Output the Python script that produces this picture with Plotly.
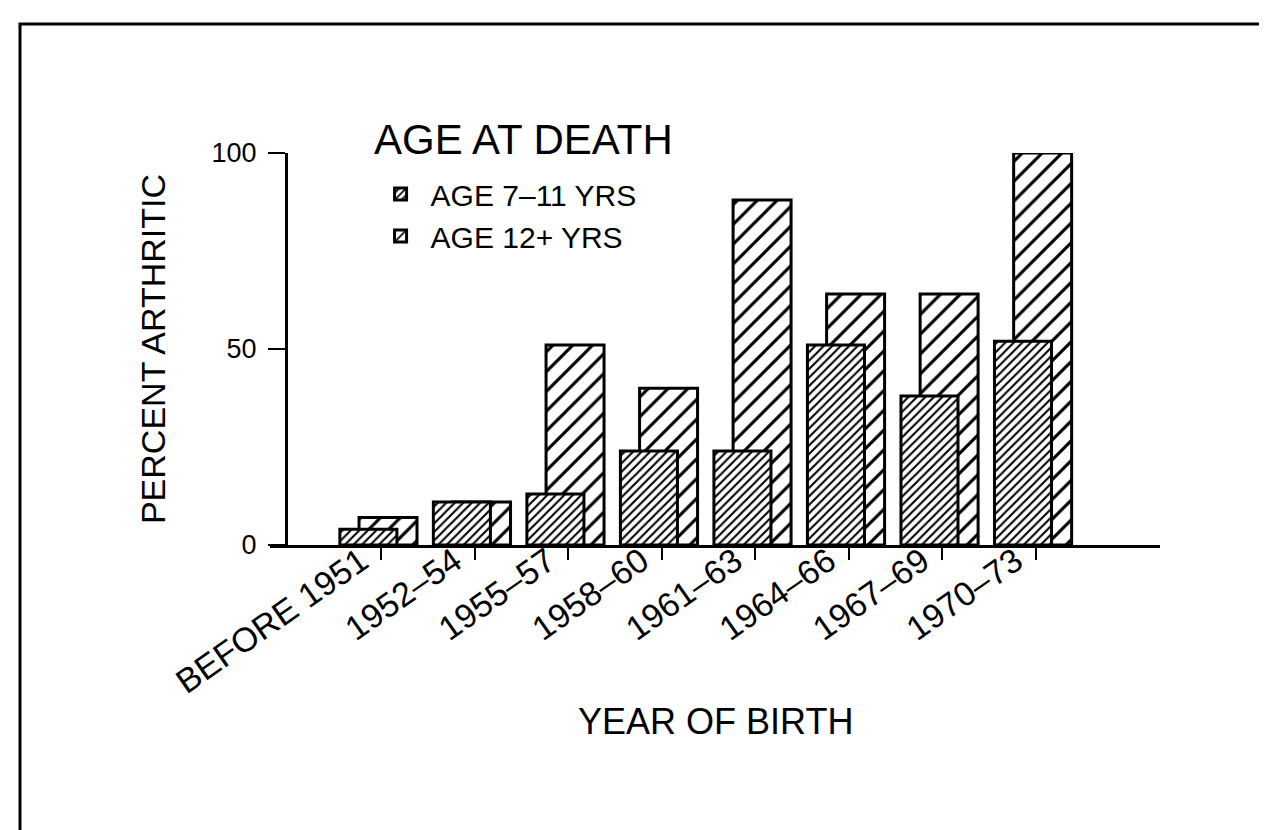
import plotly.graph_objects as go

categories = ["BEFORE 1951", "1952\u201354", "1955\u201357", "1958\u201360",
              "1961\u201363", "1964\u201366", "1967\u201369", "1970\u201373"]
age_7_11 = [4, 11, 13, 24, 24, 51, 38, 52]
age_12_plus = [7, 11, 51, 40, 88, 64, 64, 100]
y_ticks = [0, 50, 100]

FONT = "Liberation Sans, Arial, sans-serif"
pos = list(range(len(categories)))

fig = go.Figure()
fig.add_trace(go.Bar(
    x=pos, y=age_12_plus, name="AGE 12+ YRS",
    width=0.62, offset=-0.235,
    marker=dict(color="white",
                line=dict(color="black", width=3),
                pattern=dict(shape="/", size=14, solidity=0.22, fgopacity=1,
                             fgcolor="black", bgcolor="white", fillmode="overlay")),
))
fig.add_trace(go.Bar(
    x=pos, y=age_7_11, name="AGE 7\u201311 YRS",
    width=0.61, offset=-0.44,
    marker=dict(color="white",
                line=dict(color="black", width=3),
                pattern=dict(shape="/", size=6, solidity=0.35, fgopacity=1,
                             fgcolor="black", bgcolor="white", fillmode="overlay")),
))

fig.update_layout(
    width=1267, height=830,
    margin=dict(l=262, r=115, t=145, b=293),
    paper_bgcolor="white", plot_bgcolor="white",
    barmode="overlay",
    font=dict(family=FONT, color="black"),
    showlegend=True,
    legend=dict(
        font=dict(size=30, family=FONT),
        traceorder="reversed",
        x=0.113, y=0.962, xanchor="left", yanchor="top",
        bgcolor="rgba(0,0,0,0)", itemwidth=50,
    ),
    xaxis=dict(
        range=[-1.187, 8.33],
        tickvals=pos, ticktext=categories,
        tickangle=-35, ticks="outside", ticklen=12, tickwidth=2, tickcolor="black",
        tickfont=dict(size=34, family=FONT),
        ticklabelstandoff=-32, ticklabelshift=-20,
        showline=True, linecolor="black", linewidth=3,
        showgrid=False, zeroline=False,
    ),
    yaxis=dict(
        range=[0, 100],
        tickvals=y_ticks,
        anchor="free", position=0.018,
        ticks="outside", ticklen=17, tickwidth=2, tickcolor="black",
        tickfont=dict(size=27, family=FONT),
        ticklabelstandoff=6,
        showline=True, linecolor="black", linewidth=3,
        showgrid=False, zeroline=False,
        title=dict(text="PERCENT ARTHRITIC", font=dict(size=34, family=FONT), standoff=34),
    ),
    annotations=[
        dict(text="AGE AT DEATH", xref="paper", yref="paper",
             x=0.115, y=1.1, xanchor="left", yanchor="top",
             showarrow=False, font=dict(size=42, family=FONT)),
        dict(text="YEAR OF BIRTH", xref="paper", yref="paper",
             x=0.5, y=(537 - 713) / 392, xanchor="center", yanchor="middle",
             showarrow=False, font=dict(size=36, family=FONT)),
    ],
)

fig.add_shape(type="rect", xref="paper", yref="paper",
              x0=(12 - 262) / 890, x1=(1260 - 262) / 890,
              y0=(537 - 824) / 392, y1=(537 - 16) / 392,
              line=dict(color="black", width=3), fillcolor="rgba(0,0,0,0)", layer="below")

fig.write_html("out.html")
